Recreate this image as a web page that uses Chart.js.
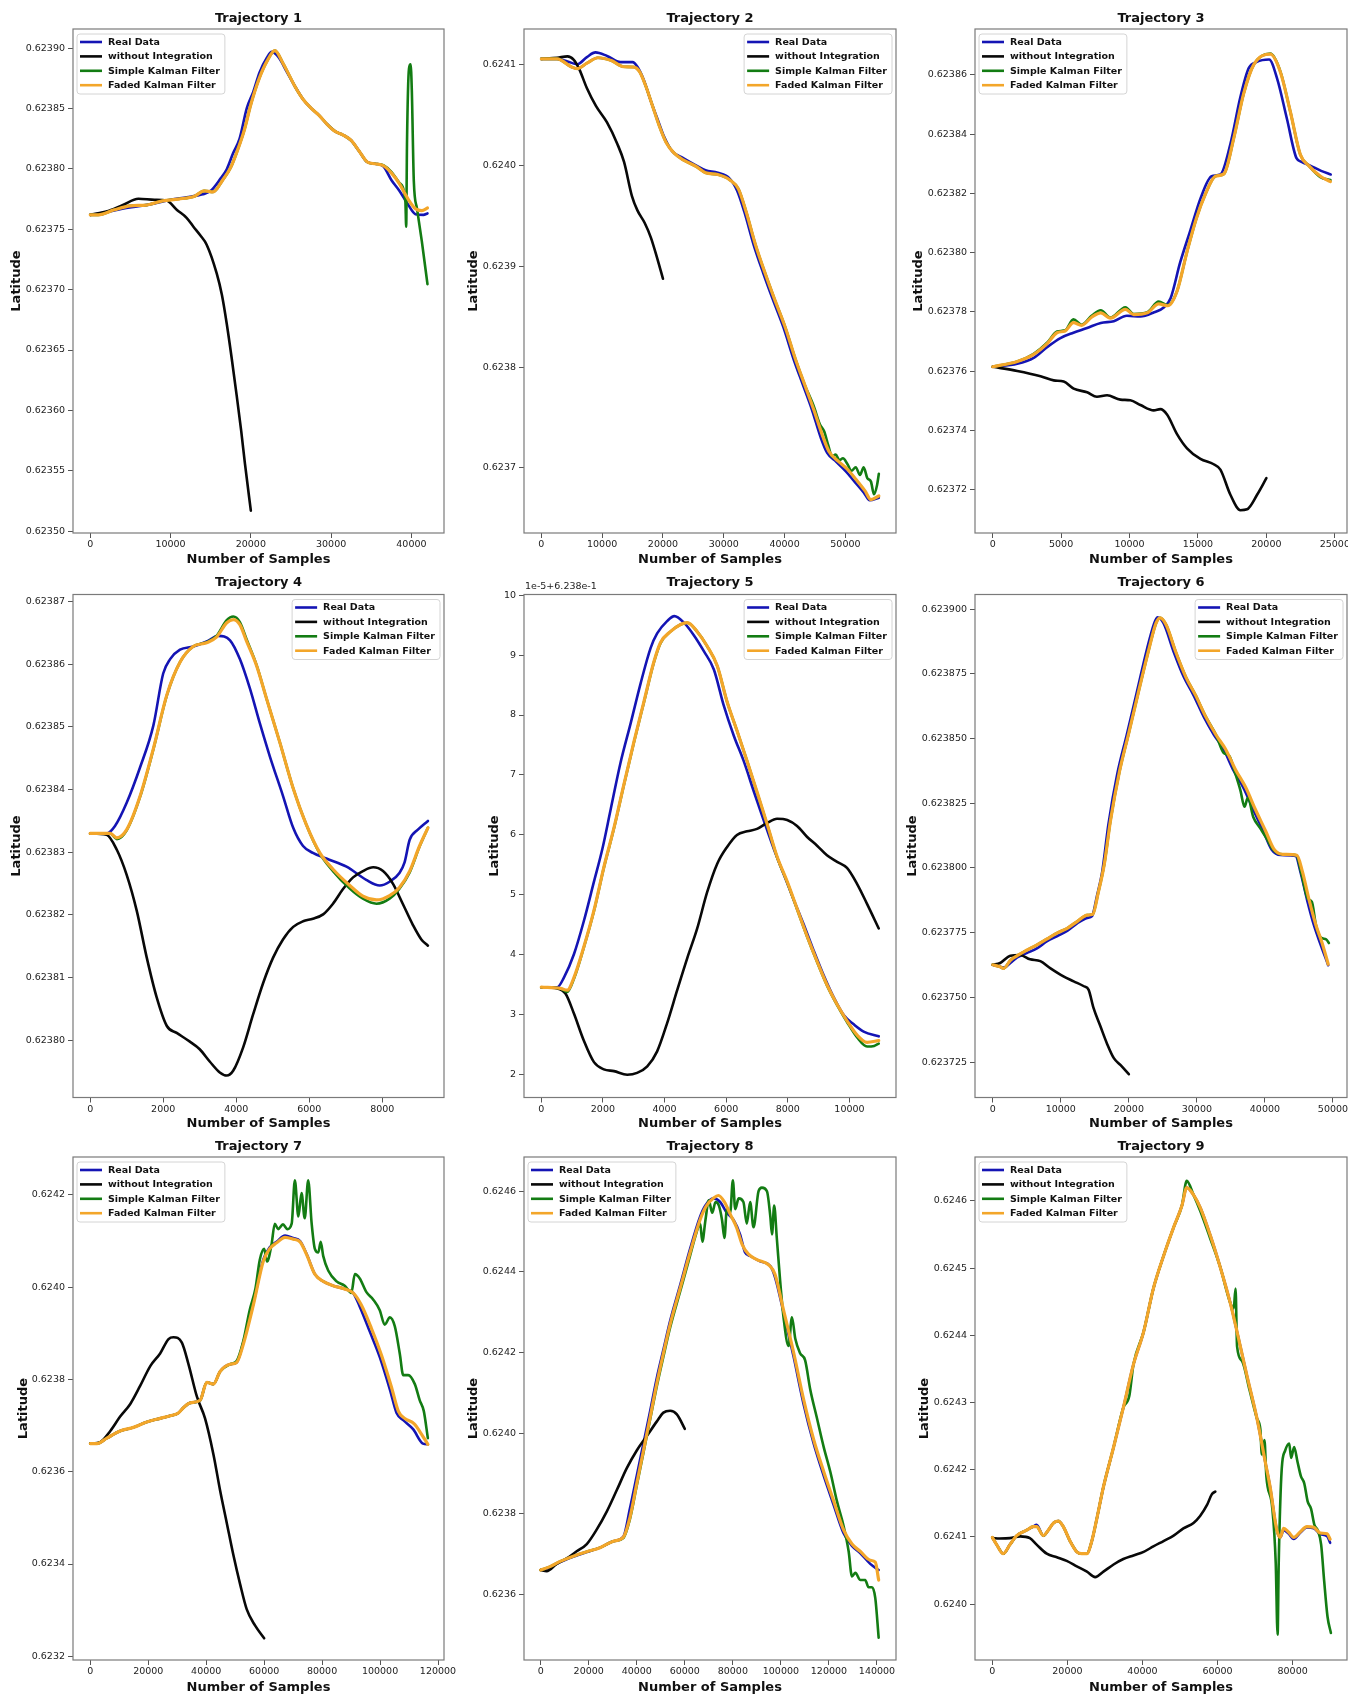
<!DOCTYPE html>
<html><head><meta charset="utf-8">
<script src="https://cdn.jsdelivr.net/npm/chart.js@4.4.1/dist/chart.umd.min.js"></script>
<style>
html,body{margin:0;padding:0;background:#fff;}
#wrap{position:relative;width:1348px;height:1698px;overflow:hidden;background:#fff;}
canvas{position:absolute;}
</style></head><body><div id="wrap"></div>
<script>
// ---------- labels ----------
const seriesLabels = ['Real Data','without Integration','Simple Kalman Filter','Faded Kalman Filter'];
const titles = ['Trajectory 1','Trajectory 2','Trajectory 3','Trajectory 4','Trajectory 5','Trajectory 6','Trajectory 7','Trajectory 8','Trajectory 9'];
const xAxisTitle = 'Number of Samples';
const yAxisTitle = 'Latitude';
const t5OffsetText = '1e-5+6.238e-1';

// ---------- tick values / labels ----------
const xTicks1 = [0,10000,20000,30000,40000];
const xTicks2 = [0,10000,20000,30000,40000,50000];
const xTicks3 = [0,5000,10000,15000,20000,25000];
const xTicks4 = [0,2000,4000,6000,8000];
const xTicks5 = [0,2000,4000,6000,8000,10000];
const xTicks6 = [0,10000,20000,30000,40000,50000];
const xTicks7 = [0,20000,40000,60000,80000,100000,120000];
const xTicks8 = [0,20000,40000,60000,80000,100000,120000,140000];
const xTicks9 = [0,20000,40000,60000,80000];

const yTicks1 = [0.62350,0.62355,0.62360,0.62365,0.62370,0.62375,0.62380,0.62385,0.62390];
const yTickLabels1 = ['0.62350','0.62355','0.62360','0.62365','0.62370','0.62375','0.62380','0.62385','0.62390'];
const yTicks2 = [0.6237,0.6238,0.6239,0.6240,0.6241];
const yTickLabels2 = ['0.6237','0.6238','0.6239','0.6240','0.6241'];
const yTicks3 = [0.62372,0.62374,0.62376,0.62378,0.62380,0.62382,0.62384,0.62386];
const yTickLabels3 = ['0.62372','0.62374','0.62376','0.62378','0.62380','0.62382','0.62384','0.62386'];
const yTicks4 = [0.62380,0.62381,0.62382,0.62383,0.62384,0.62385,0.62386,0.62387];
const yTickLabels4 = ['0.62380','0.62381','0.62382','0.62383','0.62384','0.62385','0.62386','0.62387'];
const yTicks5 = [0.62382,0.62383,0.62384,0.62385,0.62386,0.62387,0.62388,0.62389,0.62390];
const yTickLabels5 = ['2','3','4','5','6','7','8','9','10'];
const yTicks6 = [0.623725,0.623750,0.623775,0.623800,0.623825,0.623850,0.623875,0.623900];
const yTickLabels6 = ['0.623725','0.623750','0.623775','0.623800','0.623825','0.623850','0.623875','0.623900'];
const yTicks7 = [0.6232,0.6234,0.6236,0.6238,0.6240,0.6242];
const yTickLabels7 = ['0.6232','0.6234','0.6236','0.6238','0.6240','0.6242'];
const yTicks8 = [0.6236,0.6238,0.6240,0.6242,0.6244,0.6246];
const yTickLabels8 = ['0.6236','0.6238','0.6240','0.6242','0.6244','0.6246'];
const yTicks9 = [0.6240,0.6241,0.6242,0.6243,0.6244,0.6245,0.6246];
const yTickLabels9 = ['0.6240','0.6241','0.6242','0.6243','0.6244','0.6245','0.6246'];

// ---------- data: [samples, latitude] ----------
const t1Real = [[0,0.6237619],[2000,0.6237640],[4000,0.6237670],[6000,0.6237690],[8000,0.6237714],[10000,0.6237744],[12000,0.6237765],[14000,0.6237789],[15000,0.6237818],[16200,0.6237917],[17000,0.6237997],[17800,0.6238131],[18600,0.6238250],[19500,0.6238503],[20300,0.6238637],[21100,0.6238801],[22000,0.6238920],[22600,0.6238970],[23500,0.6238920],[24500,0.6238801],[25500,0.6238682],[26500,0.6238577],[27500,0.6238503],[28500,0.6238443],[29500,0.6238369],[30500,0.6238310],[31500,0.6238280],[32500,0.6238235],[33500,0.6238146],[34500,0.6238057],[35500,0.6238042],[36500,0.6238021],[37500,0.6237908],[38500,0.6237819],[39500,0.6237714],[40500,0.6237625],[41500,0.6237619],[42000,0.6237631]];
const t1NoInt = [[0,0.6237619],[2000,0.6237646],[4000,0.6237699],[6000,0.6237753],[8000,0.6237744],[9500,0.6237738],[10800,0.6237660],[12000,0.6237595],[12850,0.6237521],[13700,0.6237450],[14500,0.6237372],[15750,0.6237134],[16400,0.6236955],[17000,0.6236717],[17600,0.6236440],[18240,0.6236122],[18800,0.6235830],[19270,0.6235557],[20000,0.6235170]];
const t1Simple = [[0,0.6237619],[1000,0.6237619],[3000,0.6237661],[5000,0.6237694],[7000,0.6237700],[9000,0.6237735],[11000,0.6237750],[13000,0.6237774],[14200,0.6237818],[15300,0.6237809],[16500,0.6237908],[17500,0.6238012],[18300,0.6238146],[19200,0.6238324],[20000,0.6238533],[21000,0.6238741],[22000,0.6238890],[23000,0.6238979],[24000,0.6238875],[25500,0.6238682],[26500,0.6238577],[27500,0.6238503],[28500,0.6238443],[29500,0.6238369],[30500,0.6238310],[31500,0.6238280],[32500,0.6238235],[33500,0.6238146],[34500,0.6238057],[35500,0.6238042],[36500,0.6238030],[37500,0.6237975],[38500,0.6237885],[39250,0.6237729],[39350,0.6237521],[39450,0.6238205],[39700,0.6238830],[39900,0.6238866],[40050,0.6238652],[40300,0.6237900],[40700,0.6237670],[41300,0.6237400],[42000,0.6237045]];
const t1Faded = [[0,0.6237619],[1000,0.6237619],[3000,0.6237661],[5000,0.6237694],[7000,0.6237700],[9000,0.6237735],[11000,0.6237750],[13000,0.6237774],[14200,0.6237818],[15300,0.6237809],[16500,0.6237908],[17500,0.6238012],[18300,0.6238146],[19200,0.6238324],[20000,0.6238533],[21000,0.6238741],[22000,0.6238890],[23000,0.6238979],[24000,0.6238875],[25500,0.6238682],[26500,0.6238577],[27500,0.6238503],[28500,0.6238443],[29500,0.6238369],[30500,0.6238310],[31500,0.6238280],[32500,0.6238235],[33500,0.6238146],[34500,0.6238057],[35500,0.6238042],[36500,0.6238027],[37500,0.6237967],[38500,0.6237878],[39500,0.6237759],[40500,0.6237670],[41300,0.6237655],[42000,0.6237676]];

const t2Real = [[0,0.6241053],[2600,0.6241053],[4300,0.6241028],[5900,0.6241000],[7500,0.6241071],[8900,0.6241117],[10800,0.6241082],[13000,0.6241021],[15000,0.6241021],[15800,0.6240975],[16800,0.6240851],[18000,0.6240637],[19200,0.6240441],[20200,0.6240281],[21500,0.6240139],[23400,0.6240068],[25500,0.6239996],[27000,0.6239950],[29000,0.6239925],[31000,0.6239865],[32200,0.6239747],[33400,0.6239534],[34900,0.6239214],[36500,0.6238929],[38000,0.6238680],[39800,0.6238395],[41500,0.6238075],[43000,0.6237826],[44500,0.6237577],[46000,0.6237292],[47000,0.6237150],[48500,0.6237061],[50000,0.6236972],[51500,0.6236865],[53000,0.6236758],[54000,0.6236680],[55500,0.6236705]];
const t2NoInt = [[0,0.6241053],[2600,0.6241064],[4300,0.6241078],[5300,0.6241046],[6200,0.6240957],[7500,0.6240762],[9000,0.6240584],[10800,0.6240423],[12500,0.6240210],[13600,0.6240032],[14900,0.6239694],[15800,0.6239552],[17000,0.6239427],[18000,0.6239285],[19000,0.6239089],[20000,0.6238875]];
const t2Simple = [[0,0.6241053],[2600,0.6241053],[4900,0.6240975],[5900,0.6240957],[7500,0.6241011],[9300,0.6241064],[11500,0.6241036],[13500,0.6240975],[15200,0.6240972],[16200,0.6240922],[17200,0.6240779],[18300,0.6240584],[19400,0.6240388],[20500,0.6240228],[21800,0.6240121],[23400,0.6240050],[25500,0.6239986],[27000,0.6239925],[29000,0.6239907],[31000,0.6239854],[32400,0.6239765],[33700,0.6239534],[35200,0.6239214],[36800,0.6238929],[38300,0.6238680],[40100,0.6238395],[41800,0.6238075],[43300,0.6237826],[44800,0.6237612],[45800,0.6237434],[46500,0.6237363],[47200,0.6237221],[47800,0.6237114],[48400,0.6237132],[49000,0.6237078],[49600,0.6237096],[50300,0.6237043],[51000,0.6236972],[51700,0.6237007],[52400,0.6236931],[53000,0.6237007],[53600,0.6236900],[54200,0.6236865],[54700,0.6236740],[55200,0.6236829],[55500,0.6236943]];
const t2Faded = [[0,0.6241053],[2600,0.6241053],[4900,0.6240975],[5900,0.6240957],[7500,0.6241011],[9300,0.6241064],[11500,0.6241036],[13500,0.6240975],[15200,0.6240972],[16200,0.6240922],[17200,0.6240779],[18300,0.6240584],[19400,0.6240388],[20500,0.6240228],[21800,0.6240121],[23400,0.6240050],[25500,0.6239986],[27000,0.6239925],[29000,0.6239907],[31000,0.6239854],[32400,0.6239765],[33700,0.6239534],[35200,0.6239214],[36800,0.6238929],[38300,0.6238680],[40100,0.6238395],[41800,0.6238075],[43300,0.6237826],[44800,0.6237577],[46300,0.6237310],[47300,0.6237164],[48800,0.6237068],[50300,0.6236990],[51800,0.6236883],[53200,0.6236776],[54200,0.6236687],[55500,0.6236723]];

const t3Real = [[0,0.6237615],[1800,0.6237625],[3000,0.6237645],[4000,0.6237682],[4950,0.6237712],[5900,0.6237730],[6900,0.6237746],[7900,0.6237763],[8850,0.6237769],[9800,0.6237787],[10800,0.6237785],[11800,0.6237799],[12500,0.6237815],[13000,0.6237846],[13700,0.6237967],[14450,0.6238076],[15200,0.6238185],[16000,0.6238258],[16640,0.6238264],[17370,0.6238367],[18100,0.6238525],[18700,0.6238622],[19300,0.6238644],[20200,0.6238652],[20800,0.6238585],[21500,0.6238452],[22200,0.6238319],[22600,0.6238306],[23200,0.6238294],[24000,0.6238276],[24700,0.6238264]];
const t3NoInt = [[0,0.6237615],[1800,0.6237601],[3500,0.6237583],[4460,0.6237569],[5190,0.6237565],[5920,0.6237541],[6900,0.6237529],[7620,0.6237514],[8360,0.6237519],[9330,0.6237504],[10060,0.6237502],[10800,0.6237486],[11770,0.6237468],[12250,0.6237472],[12740,0.6237454],[13470,0.6237388],[14200,0.6237340],[15180,0.6237304],[16150,0.6237286],[16640,0.6237268],[17370,0.6237183],[18100,0.6237131],[18590,0.6237134],[19320,0.6237183],[20000,0.6237239]];
const t3Simple = [[0,0.6237615],[1800,0.6237633],[3000,0.6237659],[4000,0.6237697],[4700,0.6237734],[5300,0.6237738],[5900,0.6237775],[6500,0.6237757],[7250,0.6237788],[7900,0.6237806],[8600,0.6237781],[9700,0.6237816],[10300,0.6237793],[11300,0.6237799],[12130,0.6237835],[12800,0.6237823],[13470,0.6237870],[14200,0.6238003],[14900,0.6238118],[15540,0.6238197],[16270,0.6238258],[16900,0.6238266],[17610,0.6238385],[18340,0.6238537],[19070,0.6238634],[20290,0.6238672],[21020,0.6238612],[21750,0.6238476],[22480,0.6238331],[23090,0.6238294],[23950,0.6238255],[24680,0.6238245]];
const t3Faded = [[0,0.6237615],[1800,0.6237633],[3000,0.6237657],[4000,0.6237694],[4700,0.6237730],[5300,0.6237736],[5900,0.6237764],[6500,0.6237755],[7250,0.6237783],[7900,0.6237797],[8600,0.6237779],[9700,0.6237809],[10300,0.6237791],[11300,0.6237797],[12130,0.6237827],[12800,0.6237821],[13470,0.6237870],[14200,0.6238003],[14900,0.6238118],[15540,0.6238197],[16270,0.6238258],[16900,0.6238266],[17610,0.6238385],[18340,0.6238537],[19070,0.6238634],[20290,0.6238670],[21020,0.6238610],[21750,0.6238476],[22480,0.6238331],[23090,0.6238294],[23950,0.6238258],[24680,0.6238240]];

const t4Real = [[0,0.6238330],[450,0.6238330],[680,0.6238342],[1000,0.6238379],[1370,0.6238436],[1730,0.6238502],[2000,0.6238585],[2190,0.6238608],[2460,0.6238623],[2820,0.6238628],[3190,0.6238636],[3510,0.6238645],[3830,0.6238638],[4100,0.6238608],[4370,0.6238562],[4650,0.6238505],[4920,0.6238453],[5280,0.6238390],[5560,0.6238339],[5830,0.6238310],[6100,0.6238299],[6470,0.6238290],[7020,0.6238277],[7560,0.6238256],[7930,0.6238247],[8200,0.6238253],[8470,0.6238267],[8610,0.6238284],[8750,0.6238320],[8975,0.6238336],[9250,0.6238350]];
const t4NoInt = [[0,0.6238330],[450,0.6238328],[730,0.6238304],[1000,0.6238264],[1275,0.6238207],[1550,0.6238132],[1820,0.6238069],[2100,0.6238023],[2370,0.6238012],[2730,0.6237998],[3000,0.6237986],[3280,0.6237966],[3550,0.6237949],[3740,0.6237944],[3920,0.6237952],[4190,0.6237989],[4460,0.6238041],[4740,0.6238092],[5010,0.6238132],[5280,0.6238161],[5560,0.6238181],[5830,0.6238190],[6100,0.6238194],[6380,0.6238201],[6650,0.6238218],[6920,0.6238241],[7200,0.6238260],[7470,0.6238270],[7750,0.6238276],[8020,0.6238270],[8290,0.6238250],[8560,0.6238218],[8840,0.6238184],[9070,0.6238161],[9250,0.6238151]];
const t4Simple = [[0,0.6238330],[550,0.6238330],[730,0.6238321],[1000,0.6238335],[1370,0.6238389],[1730,0.6238464],[2100,0.6238550],[2460,0.6238603],[2820,0.6238628],[3190,0.6238635],[3460,0.6238645],[3740,0.6238670],[3920,0.6238676],[4100,0.6238667],[4280,0.6238640],[4560,0.6238598],[4830,0.6238545],[5190,0.6238476],[5560,0.6238402],[5920,0.6238344],[6290,0.6238298],[6650,0.6238270],[7110,0.6238242],[7470,0.6238226],[7840,0.6238218],[8200,0.6238226],[8470,0.6238242],[8750,0.6238268],[9020,0.6238309],[9250,0.6238339]];
const t4Faded = [[0,0.6238330],[550,0.6238330],[730,0.6238323],[1000,0.6238336],[1370,0.6238390],[1730,0.6238465],[2100,0.6238551],[2460,0.6238603],[2820,0.6238628],[3190,0.6238634],[3460,0.6238643],[3740,0.6238666],[3920,0.6238671],[4100,0.6238663],[4280,0.6238637],[4560,0.6238597],[4830,0.6238545],[5190,0.6238476],[5560,0.6238402],[5920,0.6238344],[6290,0.6238299],[6650,0.6238273],[7110,0.6238247],[7470,0.6238230],[7840,0.6238224],[8200,0.6238231],[8470,0.6238244],[8750,0.6238270],[9020,0.6238310],[9250,0.6238339]];

const t5Real = [[0,0.6238346],[520,0.6238346],[735,0.6238362],[1060,0.6238401],[1380,0.6238456],[1710,0.6238522],[1980,0.6238576],[2250,0.6238642],[2570,0.6238720],[2900,0.6238786],[3220,0.6238852],[3550,0.6238912],[3760,0.6238936],[4090,0.6238957],[4320,0.6238965],[4630,0.6238954],[4950,0.6238933],[5280,0.6238906],[5600,0.6238876],[5920,0.6238816],[6250,0.6238765],[6570,0.6238723],[6900,0.6238672],[7220,0.6238624],[7550,0.6238576],[7870,0.6238534],[8190,0.6238492],[8520,0.6238450],[8840,0.6238407],[9170,0.6238365],[9490,0.6238329],[9820,0.6238299],[10140,0.6238284],[10460,0.6238272],[10950,0.6238264]];
const t5NoInt = [[0,0.6238346],[520,0.6238344],[790,0.6238335],[1060,0.6238302],[1380,0.6238257],[1710,0.6238221],[2030,0.6238209],[2360,0.6238206],[2790,0.6238200],[3110,0.6238203],[3440,0.6238214],[3760,0.6238239],[4090,0.6238287],[4410,0.6238341],[4740,0.6238395],[5060,0.6238444],[5380,0.6238504],[5710,0.6238552],[6030,0.6238580],[6350,0.6238600],[6680,0.6238606],[7000,0.6238610],[7330,0.6238620],[7650,0.6238627],[7980,0.6238625],[8300,0.6238615],[8620,0.6238597],[8950,0.6238582],[9270,0.6238566],[9600,0.6238555],[9920,0.6238545],[10250,0.6238518],[10570,0.6238485],[10950,0.6238444]];
const t5Simple = [[0,0.6238346],[620,0.6238344],[840,0.6238338],[1060,0.6238360],[1380,0.6238412],[1710,0.6238473],[2030,0.6238545],[2360,0.6238611],[2680,0.6238683],[3010,0.6238755],[3330,0.6238821],[3650,0.6238887],[3870,0.6238920],[4190,0.6238939],[4520,0.6238951],[4740,0.6238954],[5060,0.6238939],[5380,0.6238915],[5710,0.6238882],[6030,0.6238822],[6350,0.6238774],[6680,0.6238723],[7000,0.6238671],[7330,0.6238617],[7650,0.6238563],[7980,0.6238521],[8300,0.6238476],[8620,0.6238431],[8950,0.6238388],[9270,0.6238349],[9600,0.6238316],[9920,0.6238288],[10250,0.6238262],[10570,0.6238247],[10800,0.6238248],[10950,0.6238252]];
const t5Faded = [[0,0.6238346],[620,0.6238344],[840,0.6238341],[1060,0.6238362],[1380,0.6238413],[1710,0.6238474],[2030,0.6238546],[2360,0.6238612],[2680,0.6238684],[3010,0.6238756],[3330,0.6238822],[3650,0.6238888],[3870,0.6238921],[4190,0.6238939],[4520,0.6238951],[4740,0.6238954],[5060,0.6238939],[5380,0.6238915],[5710,0.6238882],[6030,0.6238822],[6350,0.6238774],[6680,0.6238723],[7000,0.6238672],[7330,0.6238618],[7650,0.6238564],[7980,0.6238522],[8300,0.6238477],[8620,0.6238432],[8950,0.6238389],[9270,0.6238350],[9600,0.6238317],[9920,0.6238290],[10250,0.6238266],[10570,0.6238254],[10950,0.6238257]];

const t6Real = [[0,0.6237626],[1000,0.6237619],[1600,0.6237615],[2600,0.6237633],[3600,0.6237654],[5000,0.6237671],[6500,0.6237689],[8000,0.6237717],[9500,0.6237737],[11000,0.6237758],[12400,0.6237786],[13900,0.6237807],[14600,0.6237814],[15300,0.6237890],[16100,0.6237987],[17000,0.6238168],[18300,0.6238363],[19700,0.6238515],[21200,0.6238682],[22700,0.6238849],[23700,0.6238943],[24200,0.6238969],[25100,0.6238946],[26600,0.6238835],[28100,0.6238737],[29500,0.6238668],[31000,0.6238585],[32500,0.6238515],[33900,0.6238460],[35400,0.6238376],[36900,0.6238307],[38300,0.6238224],[39800,0.6238140],[41000,0.6238071],[42300,0.6238050],[44500,0.6238046],[45200,0.6237987],[46200,0.6237876],[47200,0.6237779],[48100,0.6237710],[49300,0.6237624]];
const t6NoInt = [[0,0.6237626],[1100,0.6237633],[2600,0.6237661],[4000,0.6237664],[5500,0.6237647],[7000,0.6237640],[8500,0.6237612],[10400,0.6237581],[11900,0.6237562],[13400,0.6237543],[14100,0.6237529],[14800,0.6237460],[15800,0.6237390],[16800,0.6237321],[17800,0.6237265],[18800,0.6237238],[20000,0.6237203]];
const t6Simple = [[0,0.6237626],[1000,0.6237619],[1600,0.6237612],[2600,0.6237643],[3600,0.6237661],[5000,0.6237682],[6500,0.6237703],[8000,0.6237726],[9500,0.6237749],[11000,0.6237768],[12400,0.6237793],[13900,0.6237818],[14700,0.6237821],[15500,0.6237904],[16400,0.6238015],[17300,0.6238182],[18600,0.6238369],[20000,0.6238522],[21500,0.6238689],[23000,0.6238851],[24000,0.6238946],[24600,0.6238967],[25500,0.6238939],[26900,0.6238835],[28400,0.6238737],[29800,0.6238668],[31300,0.6238585],[32800,0.6238515],[33900,0.6238446],[34800,0.6238432],[35600,0.6238369],[36400,0.6238300],[37000,0.6238237],[37500,0.6238272],[38300,0.6238196],[39300,0.6238154],[40300,0.6238112],[41200,0.6238071],[42600,0.6238053],[44600,0.6238049],[45400,0.6237974],[46300,0.6237881],[46900,0.6237869],[47500,0.6237779],[48200,0.6237731],[49000,0.6237724],[49400,0.6237710]];
const t6Faded = [[0,0.6237626],[1000,0.6237619],[1600,0.6237612],[2600,0.6237643],[3600,0.6237661],[5000,0.6237682],[6500,0.6237703],[8000,0.6237726],[9500,0.6237749],[11000,0.6237768],[12400,0.6237793],[13900,0.6237818],[14700,0.6237821],[15500,0.6237904],[16400,0.6238015],[17300,0.6238182],[18600,0.6238369],[20000,0.6238522],[21500,0.6238689],[23000,0.6238851],[24000,0.6238946],[24600,0.6238967],[25500,0.6238939],[26900,0.6238835],[28400,0.6238737],[29800,0.6238668],[31300,0.6238585],[32800,0.6238515],[34200,0.6238460],[35700,0.6238379],[37200,0.6238310],[38600,0.6238226],[40100,0.6238143],[41300,0.6238074],[42600,0.6238053],[44700,0.6238049],[45500,0.6237987],[46500,0.6237876],[47500,0.6237779],[48400,0.6237710],[49300,0.6237628]];

const t7Real = [[0,0.6236609],[2300,0.6236609],[5700,0.6236727],[10300,0.6236883],[14900,0.6236961],[19500,0.6237078],[24100,0.6237156],[27600,0.6237211],[30400,0.6237273],[32200,0.6237391],[34500,0.6237492],[37900,0.6237547],[40200,0.6237938],[42500,0.6237898],[44800,0.6238172],[48200,0.6238328],[50500,0.6238367],[52800,0.6238797],[56300,0.6239656],[59700,0.6240594],[62000,0.6240867],[64300,0.6240984],[67200,0.6241117],[70000,0.6241063],[72400,0.6241000],[74700,0.6240711],[77500,0.6240281],[80400,0.6240125],[83800,0.6240031],[87300,0.6239969],[90700,0.6239875],[93000,0.6239578],[96500,0.6239031],[99900,0.6238484],[103400,0.6237781],[105700,0.6237273],[108000,0.6237117],[111400,0.6236922],[114800,0.6236609],[116500,0.6236594]];
const t7NoInt = [[0,0.6236609],[3400,0.6236641],[6900,0.6236883],[10300,0.6237195],[13800,0.6237469],[17200,0.6237859],[20700,0.6238289],[24100,0.6238563],[27000,0.6238875],[28700,0.6238914],[31600,0.6238797],[33900,0.6238328],[36800,0.6237625],[39600,0.6237156],[42500,0.6236375],[44800,0.6235594],[47100,0.6234891],[49400,0.6234188],[51700,0.6233563],[54000,0.6233016],[56900,0.6232664],[60000,0.6232391]];
const t7Simple = [[0,0.6236609],[2300,0.6236609],[5700,0.6236727],[10300,0.6236883],[14900,0.6236961],[19500,0.6237078],[24100,0.6237156],[27600,0.6237211],[30400,0.6237273],[32200,0.6237391],[34500,0.6237492],[37900,0.6237547],[40200,0.6237938],[42500,0.6237898],[44800,0.6238172],[48200,0.6238328],[50500,0.6238400],[52800,0.6238830],[55000,0.6239500],[57000,0.6239969],[58500,0.6240594],[60000,0.6240828],[61000,0.6240555],[62500,0.6240906],[63700,0.6241375],[64800,0.6241258],[66500,0.6241359],[68000,0.6241258],[69500,0.6241375],[70600,0.6242313],[71800,0.6241531],[72900,0.6242039],[74000,0.6241492],[75200,0.6242313],[76400,0.6241375],[77500,0.6240828],[78700,0.6240750],[79500,0.6240984],[80400,0.6240672],[82100,0.6240359],[85000,0.6240125],[87800,0.6240031],[90100,0.6239875],[91300,0.6240281],[93000,0.6240188],[95300,0.6239891],[97600,0.6239734],[99900,0.6239500],[101600,0.6239188],[103400,0.6239344],[105100,0.6239148],[106800,0.6238563],[108000,0.6238094],[109700,0.6238094],[112000,0.6237898],[113700,0.6237547],[115100,0.6237313],[116500,0.6236727]];
const t7Faded = [[0,0.6236609],[2300,0.6236609],[5700,0.6236727],[10300,0.6236883],[14900,0.6236961],[19500,0.6237078],[24100,0.6237156],[27600,0.6237211],[30400,0.6237273],[32200,0.6237391],[34500,0.6237492],[37900,0.6237547],[40200,0.6237938],[42500,0.6237898],[44800,0.6238172],[48200,0.6238328],[50500,0.6238367],[52800,0.6238760],[56300,0.6239620],[59700,0.6240560],[62000,0.6240840],[64300,0.6240960],[67200,0.6241080],[70000,0.6241040],[72400,0.6240980],[74700,0.6240700],[77500,0.6240281],[80400,0.6240125],[83800,0.6240031],[87300,0.6239969],[90700,0.6239875],[93500,0.6239617],[97000,0.6239109],[100500,0.6238523],[104000,0.6237820],[106300,0.6237313],[108500,0.6237156],[111800,0.6237039],[114000,0.6236844],[116500,0.6236594]];

const t8Real = [[0,0.6236607],[3900,0.6236670],[8100,0.6236804],[13600,0.6236938],[19200,0.6237054],[24700,0.6237161],[30300,0.6237321],[34400,0.6237429],[37200,0.6238143],[40000,0.6238946],[42800,0.6239750],[45600,0.6240554],[48300,0.6241357],[51100,0.6242071],[53900,0.6242786],[58100,0.6243679],[62200,0.6244571],[66400,0.6245375],[68500,0.6245643],[71900,0.6245821],[74700,0.6245732],[77500,0.6245464],[80300,0.6245286],[83000,0.6244929],[85100,0.6244482],[87200,0.6244393],[91400,0.6244259],[95600,0.6244143],[97600,0.6243857],[101100,0.6242990],[105300,0.6241893],[109400,0.6240732],[113600,0.6239750],[117800,0.6238946],[121900,0.6238232],[126100,0.6237518],[129600,0.6237205],[133000,0.6237027],[137200,0.6236759],[140700,0.6236607]];
const t8NoInt = [[0,0.6236607],[2500,0.6236580],[6700,0.6236759],[10800,0.6236893],[15000,0.6237071],[19200,0.6237250],[23300,0.6237607],[27500,0.6238054],[31700,0.6238589],[35800,0.6239125],[40000,0.6239571],[44200,0.6239929],[48300,0.6240286],[51100,0.6240509],[53900,0.6240554],[56700,0.6240464],[60000,0.6240107]];
const t8Simple = [[0,0.6236607],[3900,0.6236690],[8100,0.6236820],[13600,0.6236950],[19200,0.6237060],[24700,0.6237161],[30300,0.6237321],[34400,0.6237400],[37200,0.6237880],[40000,0.6238700],[42800,0.6239520],[45600,0.6240350],[48300,0.6241150],[51100,0.6241900],[53900,0.6242620],[58100,0.6243520],[62200,0.6244400],[64500,0.6244900],[66400,0.6245196],[67300,0.6244750],[68600,0.6245286],[70000,0.6245777],[71400,0.6245464],[72800,0.6245732],[74200,0.6245643],[75500,0.6245286],[76500,0.6244839],[77500,0.6245554],[78900,0.6245464],[80000,0.6246268],[81000,0.6245554],[82400,0.6245821],[84400,0.6245732],[85800,0.6245196],[87200,0.6245732],[88600,0.6245107],[90700,0.6246000],[92100,0.6246089],[94200,0.6246000],[95600,0.6245375],[96300,0.6244929],[97200,0.6245643],[98300,0.6244839],[99700,0.6243768],[101100,0.6242875],[103200,0.6242161],[104600,0.6242875],[106000,0.6242339],[108000,0.6241982],[110100,0.6241804],[112200,0.6241089],[115000,0.6240375],[117800,0.6239661],[120600,0.6239036],[123300,0.6238321],[126100,0.6237696],[128200,0.6237071],[129600,0.6236446],[131000,0.6236536],[133100,0.6236357],[135100,0.6236357],[136500,0.6236179],[137900,0.6236179],[139300,0.6235911],[140700,0.6234929]];
const t8Faded = [[0,0.6236607],[3900,0.6236690],[8100,0.6236820],[13600,0.6236950],[19200,0.6237060],[24700,0.6237161],[30300,0.6237321],[34400,0.6237420],[37200,0.6237920],[40000,0.6238750],[42800,0.6239570],[45600,0.6240400],[48300,0.6241220],[51100,0.6241980],[53900,0.6242700],[58100,0.6243600],[62200,0.6244480],[66400,0.6245300],[69000,0.6245640],[72000,0.6245830],[74000,0.6245893],[76500,0.6245732],[79000,0.6245420],[81500,0.6245107],[84000,0.6244661],[86500,0.6244438],[90000,0.6244304],[95000,0.6244170],[97500,0.6243946],[101100,0.6243050],[105300,0.6242000],[109400,0.6240850],[113600,0.6239850],[117800,0.6239050],[121900,0.6238330],[126100,0.6237600],[129600,0.6237250],[133000,0.6237070],[137200,0.6236848],[139300,0.6236804],[140700,0.6236357]];

const t9Real = [[0,0.6240992],[1150,0.6240885],[2900,0.6240750],[4700,0.6240885],[6500,0.6241019],[9150,0.6241099],[10900,0.6241153],[11800,0.6241180],[13600,0.6241019],[14900,0.6241099],[16300,0.6241207],[17600,0.6241234],[18900,0.6241153],[20700,0.6240938],[22500,0.6240777],[23800,0.6240750],[25200,0.6240750],[26500,0.6240938],[27800,0.6241261],[29600,0.6241744],[32300,0.6242334],[34900,0.6242924],[37600,0.6243568],[40300,0.6244052],[42900,0.6244696],[45600,0.6245179],[48300,0.6245608],[50500,0.6245930],[51800,0.6246199],[53600,0.6246091],[55400,0.6245903],[58000,0.6245501],[60700,0.6245018],[63400,0.6244481],[65200,0.6244052],[67800,0.6243407],[70500,0.6242763],[72700,0.6242119],[74000,0.6241744],[75800,0.6241099],[76700,0.6240992],[77600,0.6241100],[78900,0.6241050],[80300,0.6240970],[82000,0.6241060],[83800,0.6241140],[85600,0.6241130],[87400,0.6241040],[89200,0.6241010],[90000,0.6240912]];
const t9NoInt = [[0,0.6240981],[2000,0.6240976],[4700,0.6240981],[7400,0.6241008],[10000,0.6240981],[11800,0.6240885],[14500,0.6240750],[17200,0.6240697],[19800,0.6240643],[22500,0.6240562],[25200,0.6240482],[27400,0.6240401],[29600,0.6240482],[32300,0.6240589],[34900,0.6240670],[37600,0.6240724],[40300,0.6240777],[42900,0.6240858],[45600,0.6240938],[48300,0.6241019],[50900,0.6241126],[53600,0.6241207],[55400,0.6241315],[57200,0.6241475],[58500,0.6241636],[59400,0.6241674]];
const t9Simple = [[0,0.6240992],[1150,0.6240885],[2900,0.6240750],[4700,0.6240885],[6500,0.6241019],[9150,0.6241099],[10900,0.6241153],[11800,0.6241153],[13600,0.6241019],[14900,0.6241099],[16300,0.6241207],[17600,0.6241234],[18900,0.6241153],[20700,0.6240938],[22500,0.6240777],[23800,0.6240750],[25200,0.6240750],[26500,0.6240938],[27800,0.6241261],[29600,0.6241744],[32300,0.6242334],[34900,0.6242924],[36500,0.6243100],[37600,0.6243568],[40300,0.6244052],[42900,0.6244696],[45600,0.6245179],[48300,0.6245608],[50500,0.6245930],[51800,0.6246300],[53600,0.6246091],[55400,0.6245850],[58000,0.6245450],[60700,0.6245018],[63400,0.6244481],[64300,0.6244400],[64800,0.6244696],[65200,0.6243837],[66500,0.6243622],[68500,0.6243193],[70500,0.6242763],[71400,0.6242602],[71800,0.6242226],[72500,0.6242440],[73000,0.6241905],[74600,0.6241421],[75500,0.6240616],[76000,0.6239542],[76300,0.6240616],[77100,0.6242012],[78000,0.6242282],[79100,0.6242390],[79600,0.6242174],[80400,0.6242336],[81300,0.6242119],[82200,0.6241905],[83100,0.6241797],[84000,0.6241529],[84900,0.6241421],[85800,0.6241180],[86700,0.6241099],[87600,0.6240885],[88400,0.6240348],[89300,0.6239811],[90200,0.6239570]];
const t9Faded = [[0,0.6240992],[1150,0.6240885],[2900,0.6240750],[4700,0.6240885],[6500,0.6241019],[9150,0.6241099],[10900,0.6241153],[11800,0.6241153],[13600,0.6241019],[14900,0.6241099],[16300,0.6241207],[17600,0.6241234],[18900,0.6241153],[20700,0.6240938],[22500,0.6240777],[23800,0.6240750],[25200,0.6240750],[26500,0.6240938],[27800,0.6241261],[29600,0.6241744],[32300,0.6242334],[34900,0.6242924],[37600,0.6243568],[40300,0.6244052],[42900,0.6244696],[45600,0.6245179],[48300,0.6245608],[50500,0.6245930],[51800,0.6246199],[53600,0.6246091],[55400,0.6245903],[58000,0.6245501],[60700,0.6245018],[63400,0.6244481],[65200,0.6244052],[67800,0.6243407],[70500,0.6242763],[72700,0.6242119],[74000,0.6241744],[75800,0.6241099],[76700,0.6240992],[77600,0.6241126],[78900,0.6241073],[80300,0.6240992],[82000,0.6241073],[83800,0.6241153],[85600,0.6241142],[87400,0.6241057],[89200,0.6241046],[90000,0.6240965]];

// ---------- styling / layout ----------
const FONT = 'DejaVu Sans';
const seriesColors = ['#1414b4','#080808','#137c13','#f3a62a'];
const seriesWidths = [2.6,2.6,2.6,3.2];
const colLeft = [0,450,900], canvasW = [470,470,448], leftOff = [73,74,75], rightPad = [26,24,1];
const rowTop = [0,564,1128], canvasH = 570;
const titlePad = [{top:10.7,bottom:2.7},{top:10.7,bottom:4.2},{top:11.2,bottom:2.2}];
const xBoxH = [37,36.5,38];

const panels = [
  {series:[t1Real,t1NoInt,t1Simple,t1Faded], xTicks:xTicks1, yTicks:yTicks1, yLabels:yTickLabels1, xMin:-2150, xMax:44060, yMin:0.6234985, yMax:0.6239158, legend:'left', yTitlePad:8.9, col:0, row:0},
  {series:[t2Real,t2NoInt,t2Simple,t2Faded], xTicks:xTicks2, yTicks:yTicks2, yLabels:yTickLabels2, xMin:-2850, xMax:58320, yMin:0.6236356, yMax:0.6241349, legend:'right', yTitlePad:15.5, col:1, row:0},
  {series:[t3Real,t3NoInt,t3Simple,t3Faded], xTicks:xTicks3, yTicks:yTicks3, yLabels:yTickLabels3, xMin:-1290, xMax:25890, yMin:0.6237054, yMax:0.6238755, legend:'left', yTitlePad:10.5, col:2, row:0},
  {series:[t4Real,t4NoInt,t4Simple,t4Faded], xTicks:xTicks4, yTicks:yTicks4, yLabels:yTickLabels4, xMin:-470, xMax:9690, yMin:0.6237909, yMax:0.6238711, legend:'right', yTitlePad:8.9, col:0, row:1},
  {series:[t5Real,t5NoInt,t5Simple,t5Faded], xTicks:xTicks5, yTicks:yTicks5, yLabels:yTickLabels5, xMin:-560, xMax:11510, yMin:0.6238162, yMax:0.6239001, legend:'right', yTitlePad:37.2, col:1, row:1, offsetText:t5OffsetText},
  {series:[t6Real,t6NoInt,t6Simple,t6Faded], xTicks:xTicks6, yTicks:yTicks6, yLabels:yTickLabels6, xMin:-2600, xMax:52060, yMin:0.6237113, yMax:0.6239057, legend:'right', yTitlePad:4.9, col:2, row:1},
  {series:[t7Real,t7NoInt,t7Simple,t7Faded], xTicks:xTicks7, yTicks:yTicks7, yLabels:yTickLabels7, xMin:-5970, xMax:122070, yMin:0.623192, yMax:0.624282, legend:'left', yTitlePad:15.5, col:0, row:2},
  {series:[t8Real,t8NoInt,t8Simple,t8Faded], xTicks:xTicks8, yTicks:yTicks8, yLabels:yTickLabels8, xMin:-6940, xMax:147920, yMin:0.6234375, yMax:0.6246848, legend:'left', yTitlePad:15.5, col:1, row:2},
  {series:[t9Real,t9NoInt,t9Simple,t9Faded], xTicks:xTicks9, yTicks:yTicks9, yLabels:yTickLabels9, xMin:-4620, xMax:94490, yMin:0.6239167, yMax:0.6246655, legend:'left', yTitlePad:17.2, col:2, row:2}
];

function roundRectPath(ctx, x, y, w, h, r) {
  ctx.beginPath();
  ctx.moveTo(x + r, y);
  ctx.lineTo(x + w - r, y); ctx.arcTo(x + w, y, x + w, y + r, r);
  ctx.lineTo(x + w, y + h - r); ctx.arcTo(x + w, y + h, x + w - r, y + h, r);
  ctx.lineTo(x + r, y + h); ctx.arcTo(x, y + h, x, y + h - r, r);
  ctx.lineTo(x, y + r); ctx.arcTo(x, y, x + r, y, r);
  ctx.closePath();
}

const framePlugin = {
  id: 'axesFrame',
  afterDatasetsDraw(chart) {
    const {ctx, chartArea: a} = chart;
    ctx.save();
    ctx.strokeStyle = '#7a7a7a';
    ctx.lineWidth = 1.2;
    ctx.strokeRect(a.left, a.top, a.right - a.left, a.bottom - a.top);
    ctx.restore();
  }
};

const insideLegend = {
  id: 'insideLegend',
  afterDraw(chart, args, opts) {
    const {ctx, chartArea: a} = chart;
    ctx.save();
    ctx.font = 'bold 9.5px "' + FONT + '"';
    const ds = chart.data.datasets;
    const maxW = Math.max(...ds.map(d => ctx.measureText(d.label).width));
    const w = 3 + 22 + 6 + maxW + 5, h = 60;
    const x = opts.side === 'left' ? a.left + 4 : a.right - 4 - w;
    const y = a.top + 5;
    roundRectPath(ctx, x, y, w, h, 3);
    ctx.fillStyle = 'rgba(255,255,255,0.85)';
    ctx.fill();
    ctx.strokeStyle = '#d4d4d4';
    ctx.lineWidth = 1;
    ctx.stroke();
    ds.forEach((d, i) => {
      const cy = y + 8 + i * 14.4;
      ctx.strokeStyle = d.borderColor;
      ctx.lineWidth = 2.6;
      ctx.beginPath(); ctx.moveTo(x + 3, cy); ctx.lineTo(x + 25, cy); ctx.stroke();
      ctx.fillStyle = '#111';
      ctx.textBaseline = 'middle';
      ctx.textAlign = 'left';
      ctx.fillText(d.label, x + 31, cy + 0.5);
    });
    ctx.restore();
  }
};

const offsetTextPlugin = {
  id: 'offsetText',
  afterDraw(chart, args, opts) {
    if (!opts.text) return;
    const {ctx, chartArea: a} = chart;
    ctx.save();
    ctx.font = '9.5px "' + FONT + '"';
    ctx.fillStyle = '#222';
    ctx.textBaseline = 'middle';
    ctx.textAlign = 'left';
    ctx.fillText(opts.text, a.left + 1, a.top - 8);
    ctx.restore();
  }
};

const wrap = document.getElementById('wrap');
panels.forEach((p, i) => {
  const cv = document.createElement('canvas');
  cv.width = canvasW[p.col];
  cv.height = canvasH;
  cv.style.left = colLeft[p.col] + 'px';
  cv.style.top = rowTop[p.row] + 'px';
  cv.style.width = canvasW[p.col] + 'px';
  cv.style.height = canvasH + 'px';
  wrap.appendChild(cv);

  const tickGrid = {display: true, drawOnChartArea: false, drawTicks: true, tickLength: 5, tickColor: '#555', tickWidth: 1};
  new Chart(cv, {
    type: 'line',
    data: {
      datasets: p.series.map((s, k) => ({
        label: seriesLabels[k],
        data: s.map(q => ({x: q[0], y: q[1]})),
        borderColor: seriesColors[k],
        backgroundColor: seriesColors[k],
        borderWidth: seriesWidths[k],
        pointRadius: 0,
        pointHoverRadius: 0,
        fill: false,
        cubicInterpolationMode: 'monotone',
        borderJoinStyle: 'round',
        borderCapStyle: 'round',
        order: 4 - k
      }))
    },
    options: {
      responsive: false,
      animation: false,
      devicePixelRatio: 1,
      events: [],
      layout: {padding: {left: 0, right: rightPad[p.col], top: 0, bottom: 0}},
      plugins: {
        legend: {display: false},
        tooltip: {enabled: false},
        title: {display: true, text: titles[i], fullSize: false, color: '#111',
                font: {family: FONT, size: 13, weight: 'bold'}, padding: titlePad[p.row]},
        insideLegend: {side: p.legend},
        offsetText: {text: p.offsetText || ''}
      },
      scales: {
        x: {
          type: 'linear', min: p.xMin, max: p.xMax,
          afterBuildTicks: s => { s.ticks = p.xTicks.map(v => ({value: v})); },
          afterFit: s => { s.height = xBoxH[p.row]; s.paddingLeft = 0; s.paddingRight = 0; },
          ticks: {autoSkip: false, maxRotation: 0, minRotation: 0, padding: 1, color: '#222',
                  font: {family: FONT, size: 9.5}, callback: (v, idx) => String(p.xTicks[idx])},
          grid: tickGrid,
          border: {display: false},
          title: {display: true, text: xAxisTitle, color: '#111',
                  font: {family: FONT, size: 13, weight: 'bold'}, padding: {top: 0, bottom: 2.2}}
        },
        y: {
          type: 'linear', min: p.yMin, max: p.yMax,
          afterBuildTicks: s => { s.ticks = p.yTicks.map(v => ({value: v})); },
          afterFit: s => { s.width = leftOff[p.col]; s.paddingTop = 0; s.paddingBottom = 0; },
          ticks: {autoSkip: false, padding: 3, color: '#222',
                  font: {family: FONT, size: 9.5}, callback: (v, idx) => p.yLabels[idx]},
          grid: tickGrid,
          border: {display: false},
          title: {display: true, text: yAxisTitle, color: '#111',
                  font: {family: FONT, size: 13, weight: 'bold'}, padding: {top: p.yTitlePad, bottom: 0}}
        }
      }
    },
    plugins: [framePlugin, insideLegend, offsetTextPlugin]
  });
});
</script>
</body></html>
